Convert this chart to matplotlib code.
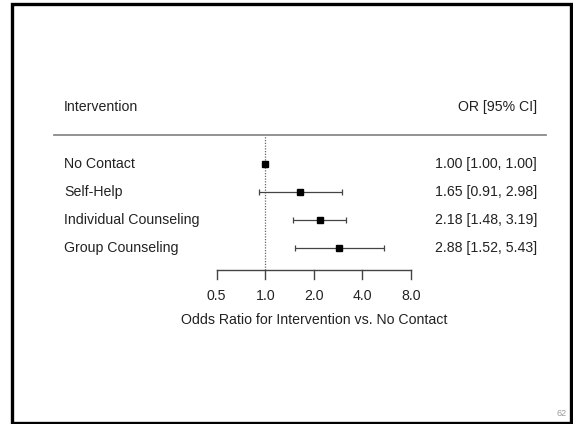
import matplotlib
matplotlib.use("Agg")
import matplotlib.pyplot as plt
from matplotlib.patches import Rectangle
import matplotlib.transforms as mtransforms

plt.rcParams['font.family'] = ['Liberation Sans', 'DejaVu Sans']

# data
labels = ["No Contact", "Self-Help", "Individual Counseling", "Group Counseling"]
odds = [1.00, 1.65, 2.18, 2.88]
ci_low = [1.00, 0.91, 1.48, 1.52]
ci_high = [1.00, 2.98, 3.19, 5.43]
ticks = [0.5, 1.0, 2.0, 4.0, 8.0]
tick_labels = ["0.5", "1.0", "2.0", "4.0", "8.0"]

fig = plt.figure(figsize=(5.73, 4.24), dpi=100)
ax = fig.add_axes([0, 0, 1, 1])
ax.set_xscale("log", base=2)
ax.set_xlim(2 ** -5.468, 2 ** 6.346)
ax.set_ylim(-5.24, 9.8)
ax.axis("off")

fs = 10.2
rows = [4 - i for i in range(len(labels))]
trans = mtransforms.blended_transform_factory(ax.transAxes, ax.transData)
left_x = 64 / 573
right_x = 537 / 573

# header + separator
ax.text(left_x, 6, "Intervention", transform=trans, ha="left", va="center", fontsize=fs, color="#222222")
ax.text(right_x, 6, "OR [95% CI]", transform=trans, ha="right", va="center", fontsize=fs, color="#222222")
ax.plot([54 / 573, 546 / 573], [5, 5], transform=trans, color="#8a8a8a", lw=1.3)

axis_y = 0.22
# reference line at OR = 1
ax.plot([1, 1], [axis_y, 4.97], color="#666666", lw=0.9, ls=(0, (1, 1.2)))

# rows
for lab, y, o, lo, hi in zip(labels, rows, odds, ci_low, ci_high):
    ax.text(left_x, y, lab, transform=trans, ha="left", va="center", fontsize=fs, color="#222222")
    ax.text(right_x, y, f"{o:.2f} [{lo:.2f}, {hi:.2f}]", transform=trans, ha="right",
            va="center", fontsize=fs, color="#222222")
    if hi > lo:
        ax.errorbar([o], [y], xerr=[[o - lo], [hi - o]], fmt="none", ecolor="#444444",
                    elinewidth=0.9, capsize=1.9, capthick=0.9)
    ax.plot([o], [y], marker="s", ms=4.8, color="black", mec="black")

# x axis
ax.plot([ticks[0], ticks[-1]], [axis_y, axis_y], color="#444444", lw=1.0)
for t, tl in zip(ticks, tick_labels):
    ax.plot([t, t], [axis_y, axis_y - 0.33], color="#444444", lw=1.0)
    ax.text(t, axis_y - 0.93, tl, ha="center", va="center", fontsize=fs, color="#222222")
ax.text(2 ** 1, axis_y - 1.78, "Odds Ratio for Intervention vs. No Contact", ha="center",
        va="center", fontsize=fs, color="#222222")

# slide frame and page number
fig.patches.append(Rectangle((12 / 573, 1.5 / 424), 558.5 / 573, 419 / 424, transform=fig.transFigure,
                             fill=False, edgecolor="black", lw=2.4))
fig.text(562 / 573, 1 - 414 / 424, "62", ha="center", va="center", fontsize=6.5, color="#999999")

fig.savefig("out.png", dpi=100, facecolor="white")
